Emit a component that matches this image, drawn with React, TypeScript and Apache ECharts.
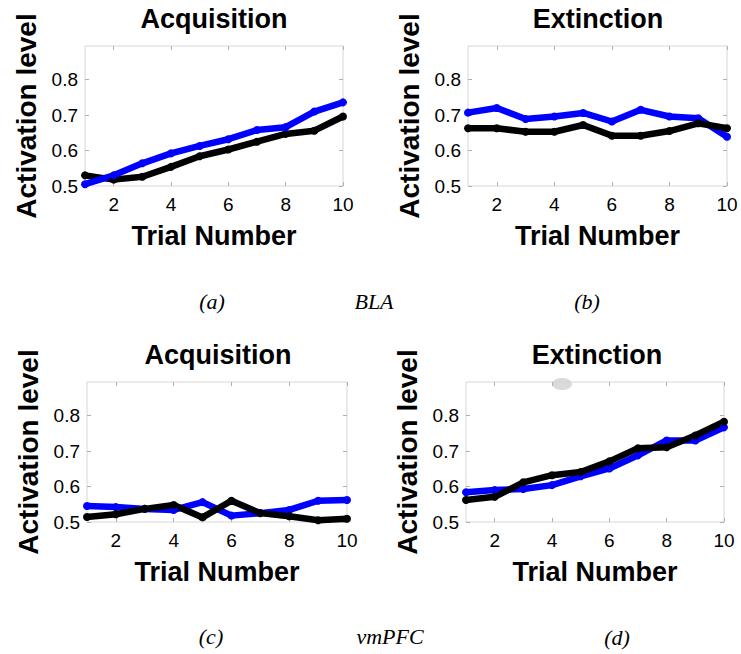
import React, { useEffect, useRef } from "react";
import * as echarts from "echarts";

// ---- data ----
const trials = [1, 2, 3, 4, 5, 6, 7, 8, 9, 10];
const xTickValues = [2, 4, 6, 8, 10];
const yTickValues = [0.5, 0.6, 0.7, 0.8];
const yMin = 0.5;
const yMax = 0.895;

const panelTitles = ["Acquisition", "Extinction", "Acquisition", "Extinction"];
const xAxisName = "Trial Number";
const yAxisName = "Activation level";
const captions = ["(a)", "BLA", "(b)", "(c)", "vmPFC", "(d)"];

// BLA acquisition
const blaAcqBlue = [0.505, 0.53, 0.564, 0.592, 0.613, 0.632, 0.658, 0.666, 0.71, 0.736];
const blaAcqBlack = [0.53, 0.518, 0.526, 0.554, 0.584, 0.603, 0.625, 0.647, 0.656, 0.696];
// BLA extinction
const blaExtBlue = [0.707, 0.72, 0.689, 0.696, 0.706, 0.682, 0.715, 0.696, 0.691, 0.639];
const blaExtBlack = [0.663, 0.663, 0.653, 0.653, 0.672, 0.642, 0.642, 0.655, 0.677, 0.663];
// vmPFC acquisition
const vmAcqBlue = [0.545, 0.542, 0.537, 0.534, 0.556, 0.518, 0.525, 0.534, 0.56, 0.562];
const vmAcqBlack = [0.514, 0.522, 0.537, 0.548, 0.513, 0.56, 0.525, 0.516, 0.505, 0.509];
// vmPFC extinction
const vmExtBlue = [0.584, 0.59, 0.593, 0.604, 0.629, 0.651, 0.688, 0.73, 0.73, 0.767];
const vmExtBlack = [0.562, 0.571, 0.612, 0.632, 0.641, 0.671, 0.708, 0.711, 0.744, 0.783];

const panelBlue = [blaAcqBlue, blaExtBlue, vmAcqBlue, vmExtBlue];
const panelBlack = [blaAcqBlack, blaExtBlack, vmAcqBlack, vmExtBlack];

// ---- layout (positions / styles) ----
const grids = [
  { left: 85, top: 46, width: 258, height: 140 },
  { left: 468, top: 46, width: 259, height: 140 },
  { left: 87, top: 382, width: 260, height: 140 },
  { left: 466, top: 382, width: 258, height: 140 },
];
const titlePos = [
  [214, 19],
  [598, 19],
  [218, 355],
  [597, 355],
];
const captionPos = [
  [212, 301],
  [374, 301],
  [587, 301],
  [211, 636],
  [390, 636],
  [617, 637],
];
const blueOnTop = [true, false, false, false];

const SANS = '"Liberation Sans", Arial, Helvetica, sans-serif';
const SERIF = '"Liberation Serif", "Times New Roman", serif';
const BORDER = "#d6d6d6";
const TICK = "#b0b0b0";

function buildOption() {
  const xAxes: any[] = [];
  const yAxes: any[] = [];
  const series: any[] = [];
  grids.forEach((g, i) => {
    xAxes.push({
      type: "value",
      gridIndex: i,
      position: "bottom",
      min: 1,
      max: 10,
      name: xAxisName,
      nameLocation: "middle",
      nameGap: 36,
      nameTextStyle: { fontFamily: SANS, fontWeight: "bold", fontSize: 27, color: "#000" },
      axisLine: { show: false },
      splitLine: { show: false },
      axisTick: { show: true, inside: true, length: 4, customValues: xTickValues, lineStyle: { color: TICK } },
      axisLabel: { show: true, customValues: xTickValues, margin: 9, fontFamily: SANS, fontSize: 19, color: "#000" },
    });
    xAxes.push({
      type: "value",
      gridIndex: i,
      position: "top",
      min: 1,
      max: 10,
      axisLine: { show: false },
      splitLine: { show: false },
      axisTick: { show: true, inside: true, length: 4, customValues: xTickValues, lineStyle: { color: TICK } },
      axisLabel: { show: false },
    });
    yAxes.push({
      type: "value",
      gridIndex: i,
      position: "left",
      min: yMin,
      max: yMax,
      name: yAxisName,
      nameLocation: "middle",
      nameGap: 45,
      nameTextStyle: { fontFamily: SANS, fontWeight: "bold", fontSize: 28, color: "#000" },
      axisLine: { show: false },
      splitLine: { show: false },
      axisTick: { show: true, inside: true, length: 4, customValues: yTickValues, lineStyle: { color: TICK } },
      axisLabel: {
        show: true,
        customValues: yTickValues,
        margin: 7,
        fontFamily: SANS,
        fontSize: 19,
        color: "#000",
        formatter: (v: number) => v.toFixed(1),
      },
    });
    yAxes.push({
      type: "value",
      gridIndex: i,
      position: "right",
      min: yMin,
      max: yMax,
      axisLine: { show: false },
      splitLine: { show: false },
      axisTick: { show: true, inside: true, length: 4, customValues: yTickValues, lineStyle: { color: TICK } },
      axisLabel: { show: false },
    });
    const mk = (vals: number[], color: string, name: string) => ({
      type: "line",
      name,
      xAxisIndex: i * 2,
      yAxisIndex: i * 2,
      data: trials.map((t, k) => [t, vals[k]]),
      symbol: "circle",
      symbolSize: 8,
      showSymbol: true,
      lineStyle: { color, width: 6.5 },
      itemStyle: { color },
      clip: false,
    });
    const b = mk(panelBlue[i], "#0000ff", "blue" + i);
    const k = mk(panelBlack[i], "#000000", "black" + i);
    if (blueOnTop[i]) series.push(k, b);
    else series.push(b, k);
  });

  const graphic: any[] = [];
  graphic.push({
    type: "ellipse",
    shape: { cx: 562, cy: 384, rx: 10, ry: 6 },
    style: { fill: "#dadada" },
    z: -1,
  });
  panelTitles.forEach((t, i) => {
    graphic.push({
      type: "text",
      x: titlePos[i][0],
      y: titlePos[i][1],
      style: {
        text: t,
        font: `bold 27px ${SANS}`,
        fill: "#000",
        align: "center",
        verticalAlign: "middle",
        textAlign: "center",
        textVerticalAlign: "middle",
      },
    });
  });
  captions.forEach((c, i) => {
    graphic.push({
      type: "text",
      x: captionPos[i][0],
      y: captionPos[i][1],
      style: {
        text: c,
        font: `italic 22px ${SERIF}`,
        fill: "#000",
        align: "center",
        verticalAlign: "middle",
        textAlign: "center",
        textVerticalAlign: "middle",
      },
    });
  });

  return {
    animation: false,
    backgroundColor: "#ffffff",
    grid: grids.map((g) => ({
      ...g,
      show: true,
      borderColor: BORDER,
      borderWidth: 1,
      backgroundColor: "transparent",
      containLabel: false,
    })),
    xAxis: xAxes,
    yAxis: yAxes,
    series,
    graphic,
  };
}

export default function App() {
  const ref = useRef<HTMLDivElement>(null);
  useEffect(() => {
    if (!ref.current) return;
    const chart = echarts.init(ref.current, undefined, { renderer: "svg" });
    chart.setOption(buildOption() as any);
    return () => chart.dispose();
  }, []);
  return (
    <div
      ref={ref}
      style={{ position: "absolute", left: 0, top: 0, width: 741, height: 654, background: "#fff" }}
    />
  );
}
